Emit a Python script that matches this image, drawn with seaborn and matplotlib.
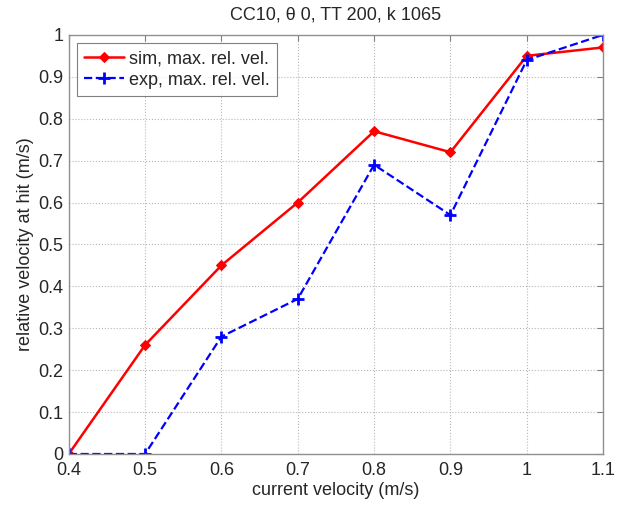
import numpy as np
import pandas as pd
import matplotlib
matplotlib.use("Agg")
import matplotlib.pyplot as plt
import seaborn as sns

# data
velocity = [0.4, 0.5, 0.6, 0.7, 0.8, 0.9, 1.0, 1.1]
sim_vals = [0.0, 0.26, 0.45, 0.60, 0.77, 0.72, 0.95, 0.97]
exp_vals = [0.0, 0.0, 0.28, 0.37, 0.69, 0.57, 0.94, 1.0]
x_ticks = [0.4, 0.5, 0.6, 0.7, 0.8, 0.9, 1.0, 1.1]
x_tick_labels = ["0.4", "0.5", "0.6", "0.7", "0.8", "0.9", "1", "1.1"]
y_ticks = [0, 0.1, 0.2, 0.3, 0.4, 0.5, 0.6, 0.7, 0.8, 0.9, 1.0]
y_tick_labels = ["0", "0.1", "0.2", "0.3", "0.4", "0.5", "0.6", "0.7", "0.8", "0.9", "1"]

sns.set_style("white")
plt.rcParams['font.family'] = ['Liberation Sans', 'DejaVu Sans']

df = pd.DataFrame({'velocity': velocity, 'sim': sim_vals, 'exp': exp_vals})

fig = plt.figure(figsize=(6.25, 5.05), dpi=100)
ax = fig.add_axes([0.110, 0.101, 0.855, 0.830])

sns.lineplot(data=df, x='velocity', y='sim', ax=ax, color='#ff0000', lw=1.8,
             marker='D', markersize=5.5, markeredgecolor='#ff0000',
             label='sim, max. rel. vel.')
sns.lineplot(data=df, x='velocity', y='exp', ax=ax, color='#0000ff', lw=1.6,
             linestyle='--', marker='+', markersize=8, markeredgewidth=2,
             markeredgecolor='#0000ff', label='exp, max. rel. vel.')

ax.set_xlim(0.4, 1.1)
ax.set_ylim(0, 1)
ax.set_xticks(x_ticks)
ax.set_xticklabels(x_tick_labels)
ax.set_yticks(y_ticks)
ax.set_yticklabels(y_tick_labels)
ax.tick_params(direction='in', length=4, labelsize=13, color='#808080',
               top=True, right=True)
ax.tick_params(axis='x', pad=6)
ax.tick_params(axis='y', pad=4)
ax.grid(True, linestyle=':', color='#b8b8b8', lw=0.8)
for s in ax.spines.values():
    s.set_color('#909090')
    s.set_linewidth(1.0)

ax.set_xlabel('current velocity (m/s)', fontsize=13, labelpad=2)
ax.set_ylabel('relative velocity at hit (m/s)', fontsize=13, labelpad=3)
ax.set_title('CC10, θ 0, TT 200, k 1065', fontsize=13, pad=11)

leg = ax.legend(loc='upper left', fontsize=13, frameon=True, fancybox=False,
                borderaxespad=0.45, handlelength=2.2, borderpad=0.4, labelspacing=0.25,
                handletextpad=0.3)
leg.get_frame().set_edgecolor('#606060')
leg.get_frame().set_linewidth(0.8)

fig.savefig('out.png', dpi=100)
